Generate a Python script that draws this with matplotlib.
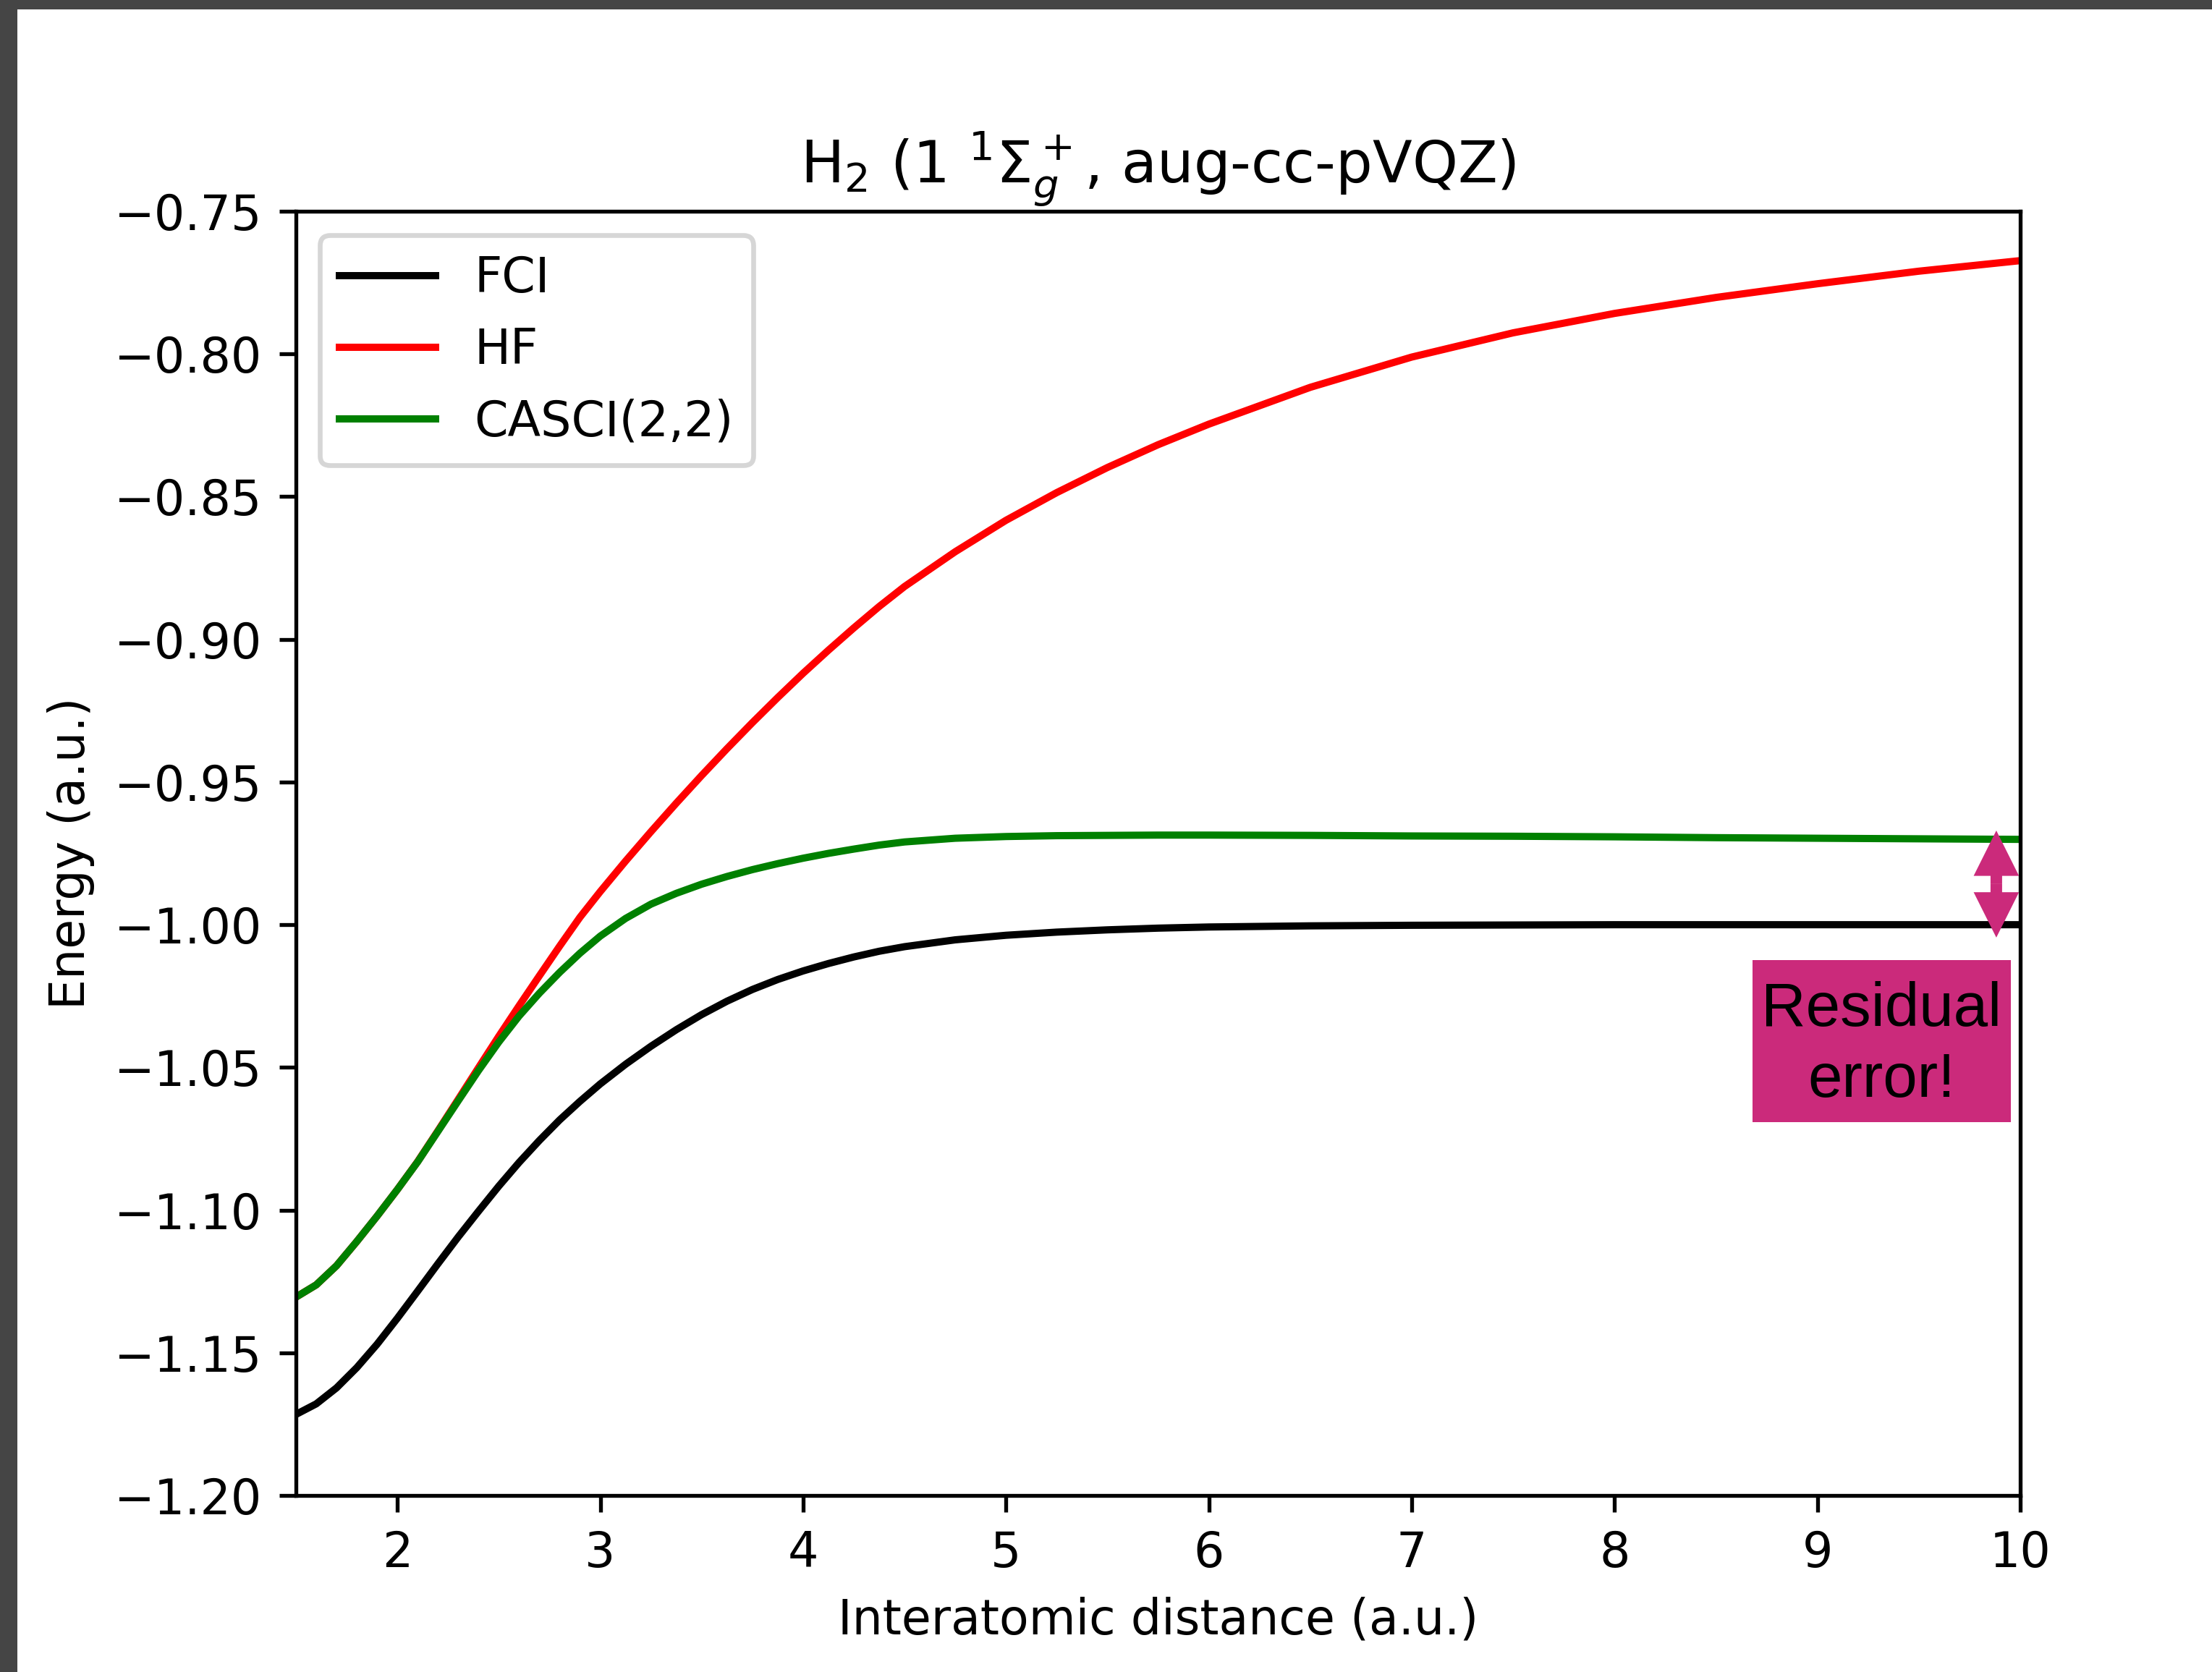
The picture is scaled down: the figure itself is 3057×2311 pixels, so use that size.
import matplotlib
matplotlib.use("Agg")
import matplotlib.pyplot as plt
from matplotlib.patches import Rectangle, FancyArrowPatch

# ---- data ----
distance = [1.5, 1.6, 1.7, 1.8, 1.9, 2.0, 2.1, 2.2, 2.3, 2.4, 2.5, 2.6, 2.7, 2.8, 2.9, 3.0,
            3.125, 3.25, 3.375, 3.5, 3.625, 3.75, 3.875, 4.0, 4.125, 4.25, 4.375, 4.5,
            4.75, 5.0, 5.25, 5.5, 5.75, 6.0, 6.5, 7.0, 7.5, 8.0, 8.5, 9.0, 9.5, 10.0]

e_fci = [-1.1716, -1.1679, -1.1623, -1.1552, -1.1470, -1.1379, -1.1284, -1.1188, -1.1094,
         -1.1004, -1.0916, -1.0833, -1.0756, -1.0684, -1.0619, -1.0558,
         -1.0489, -1.0426, -1.0368, -1.0315, -1.0268, -1.0227, -1.0192, -1.0162,
         -1.0136, -1.0113, -1.0093, -1.0077,
         -1.0053, -1.0037, -1.0026, -1.0018, -1.0012, -1.0008, -1.0004, -1.0002,
         -1.0001, -1.0000, -1.0000, -1.0000, -1.0000, -1.0000]

e_hf = [-1.1305, -1.1262, -1.1195, -1.1110, -1.1021, -1.0928, -1.0830, -1.0722, -1.0612,
        -1.0501, -1.0391, -1.0284, -1.0179, -1.0075, -0.9974, -0.9884,
        -0.9777, -0.9674, -0.9574, -0.9477, -0.9383, -0.9292, -0.9204, -0.9119,
        -0.9038, -0.8960, -0.8885, -0.8815,
        -0.8693, -0.8583, -0.8486, -0.8398, -0.8318, -0.8246, -0.8117, -0.8011,
        -0.7926, -0.7858, -0.7802, -0.7754, -0.7710, -0.7673]

e_casci = [-1.1305, -1.1262, -1.1195, -1.1110, -1.1021, -1.0928, -1.0831, -1.0724, -1.0617,
           -1.0511, -1.0411, -1.0320, -1.0240, -1.0167, -1.0100, -1.0040,
           -0.9978, -0.9928, -0.9890, -0.9858, -0.9831, -0.9807, -0.9786, -0.9767,
           -0.9750, -0.9735, -0.9721, -0.9710,
           -0.9697, -0.9691, -0.9688, -0.9687, -0.9686, -0.9686, -0.9687, -0.9689,
           -0.9690, -0.9692, -0.9695, -0.9697, -0.9699, -0.9701]

series_labels = ["FCI", "HF", "CASCI(2,2)"]
x_ticks = [2, 3, 4, 5, 6, 7, 8, 9, 10]
y_ticks = [-1.20, -1.15, -1.10, -1.05, -1.00, -0.95, -0.90, -0.85, -0.80, -0.75]

# ---- figure ----
W, H, DPI = 3057, 2311, 480
fig = plt.figure(figsize=(W / DPI, H / DPI), dpi=DPI)
fig.patch.set_facecolor("white")

# dark border (screenshot frame)
gray = "#454545"
fig.patches.append(Rectangle((0, 1 - 13 / H), 1, 13 / H, transform=fig.transFigure,
                             facecolor=gray, edgecolor="none", zorder=0))
fig.patches.append(Rectangle((0, 0), 24 / W, 1, transform=fig.transFigure,
                             facecolor=gray, edgecolor="none", zorder=0))

left, right, top, bottom = 409 / W, 2792 / W, 1 - 292 / H, 1 - 2067 / H
ax = fig.add_axes([left, bottom, right - left, top - bottom])

ax.plot(distance, e_fci, color="black", label=series_labels[0])
ax.plot(distance, e_hf, color="red", label=series_labels[1])
ax.plot(distance, e_casci, color="green", label=series_labels[2])

ax.set_xlim(1.5, 10)
ax.set_ylim(-1.20, -0.75)
ax.set_xticks(x_ticks)
ax.set_yticks(y_ticks)
ax.set_xlabel("Interatomic distance (a.u.)")
ax.set_ylabel("Energy (a.u.)")
ax.set_title(r"H$_2$ (1 $^1\Sigma_g^+$, aug-cc-pVQZ)", fontsize=12)
ax.legend(loc="upper left")

# ---- annotation: residual error ----
magenta = "#CB2A7B"
arrow_x, arrow_top, arrow_bot = 9.882, -0.9670, -1.0045
arrow_mid = (arrow_top + arrow_bot) / 2
style = "simple,head_length=9.4,head_width=9.4,tail_width=2.4"
for tip in (arrow_top, arrow_bot):
    ax.add_patch(FancyArrowPatch((arrow_x, arrow_mid), (arrow_x, tip),
                                 arrowstyle=style, mutation_scale=1, lw=0,
                                 facecolor=magenta, edgecolor="none",
                                 shrinkA=0, shrinkB=0, clip_on=False, zorder=5))

box = Rectangle((8.680, -1.0692), 1.274, 0.0568, facecolor=magenta,
                edgecolor="none", clip_on=False, zorder=5)
ax.add_patch(box)
ax.text(9.317, -1.0423, "Residual\nerror!", ha="center", va="center",
        fontsize=12.8, family=["Liberation Sans", "DejaVu Sans"], color="black",
        linespacing=1.29, zorder=6)

fig.savefig("out.png", dpi=DPI)
